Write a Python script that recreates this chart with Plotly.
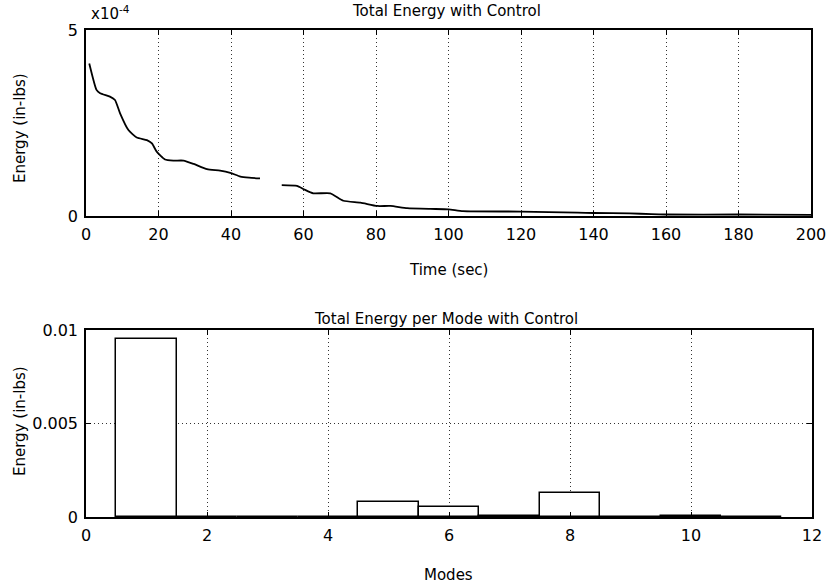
import plotly.graph_objects as go

# Total energy time history (energy in units of 1e-4 in-lbs); None marks the break in the trace
time_sec = [0.9, 2.9, 3.9, 6.6, 8.0, 9.4, 11.7, 14.0, 16.8, 18.2, 19.5, 21.8, 24.1, 26.9,
            29.7, 33.4, 37.0, 39.8, 42.6, 45.0, 48.0, None, 54.0, 58.2, 60.1, 62.7, 67.4,
            71.0, 75.7, 80.3, 84.0, 88.6, 95.0, 100.0, 104.0, 120.0, 135.6, 140.0, 150.0,
            156.0, 160.0, 180.0, 200.0]
energy_e4 = [4.10, 3.39, 3.30, 3.21, 3.12, 2.76, 2.31, 2.11, 2.04, 1.95, 1.73, 1.52, 1.49, 1.49,
             1.40, 1.26, 1.22, 1.16, 1.06, 1.03, 1.01, None, 0.83, 0.81, 0.72, 0.61, 0.61,
             0.41, 0.36, 0.27, 0.27, 0.21, 0.19, 0.18, 0.13, 0.12, 0.09, 0.08, 0.07,
             0.05, 0.04, 0.04, 0.03]

# Energy per mode
modes = [1, 2, 3, 4, 5, 6, 7, 8, 9, 10, 11]
mode_energy = [0.0095, 0.0, 0.0, 0.0, 0.0008, 0.00052, 0.00008, 0.0013, 0.0, 0.00005, 0.0]

top_x_ticks = [0, 20, 40, 60, 80, 100, 120, 140, 160, 180, 200]
top_y_ticks = [0, 5]
bot_x_ticks = [0, 2, 4, 6, 8, 10, 12]
bot_y_ticks = [0, 0.005, 0.01]
bot_y_labels = ["0", "0.005", "0.01"]

W, H = 830, 586
FONT = "DejaVu Sans"
INK = "black"


def px_x(p):
    return p / W


def px_y(p):
    return 1 - p / H


fig = go.Figure()

fig.add_trace(go.Scatter(
    x=time_sec, y=energy_e4, mode="lines", connectgaps=False,
    line=dict(color=INK, width=1.8, shape="spline", smoothing=0.5),
    xaxis="x", yaxis="y", showlegend=False,
))

fig.add_trace(go.Bar(
    x=modes, y=mode_energy, width=1.0,
    marker=dict(color="white", line=dict(color=INK, width=1.5)),
    xaxis="x2", yaxis="y2", showlegend=False,
))

axis_common = dict(
    showline=True, linecolor=INK, linewidth=1.5, mirror="ticks",
    ticks="inside", ticklen=5, tickcolor=INK, tickwidth=1,
    zeroline=False, automargin=False, ticklabelstandoff=3,
    tickfont=dict(family=FONT, size=16, color=INK),
    gridcolor="#333333", griddash="1px,3px", gridwidth=1,
)

fig.update_layout(
    width=W, height=H,
    margin=dict(l=0, r=0, t=0, b=0, autoexpand=False),
    paper_bgcolor="white", plot_bgcolor="white",
    bargap=0,
    xaxis=dict(domain=[px_x(86), px_x(811)], range=[0, 200], tickvals=top_x_ticks,
               showgrid=True, anchor="y", **axis_common),
    yaxis=dict(domain=[px_y(216), px_y(30)], range=[0, 5], tickvals=top_y_ticks,
               showgrid=False, anchor="x", **axis_common),
    xaxis2=dict(domain=[px_x(86), px_x(812)], range=[0, 12], tickvals=bot_x_ticks,
                showgrid=True, anchor="y2", **axis_common),
    yaxis2=dict(domain=[px_y(517), px_y(330)], range=[0, 0.01], tickvals=bot_y_ticks,
                ticktext=bot_y_labels, showgrid=True, anchor="x2", **axis_common),
)

label_font = dict(family=FONT, size=15, color=INK)
annotations = [
    dict(text="Total Energy with Control", x=px_x(446), y=px_y(11)),
    dict(text="x10<sup>-4</sup>", x=px_x(110), y=px_y(13)),
    dict(text="Time (sec)", x=px_x(448), y=px_y(270)),
    dict(text="Energy (in-lbs)", x=px_x(20), y=px_y(128), textangle=-90),
    dict(text="Total Energy per Mode with Control", x=px_x(446), y=px_y(319)),
    dict(text="Modes", x=px_x(448), y=px_y(575)),
    dict(text="Energy (in-lbs)", x=px_x(20), y=px_y(421), textangle=-90),
]
for a in annotations:
    fig.add_annotation(xref="paper", yref="paper", showarrow=False,
                       xanchor="center", yanchor="middle", font=label_font, **a)

fig.write_html("out.html")
